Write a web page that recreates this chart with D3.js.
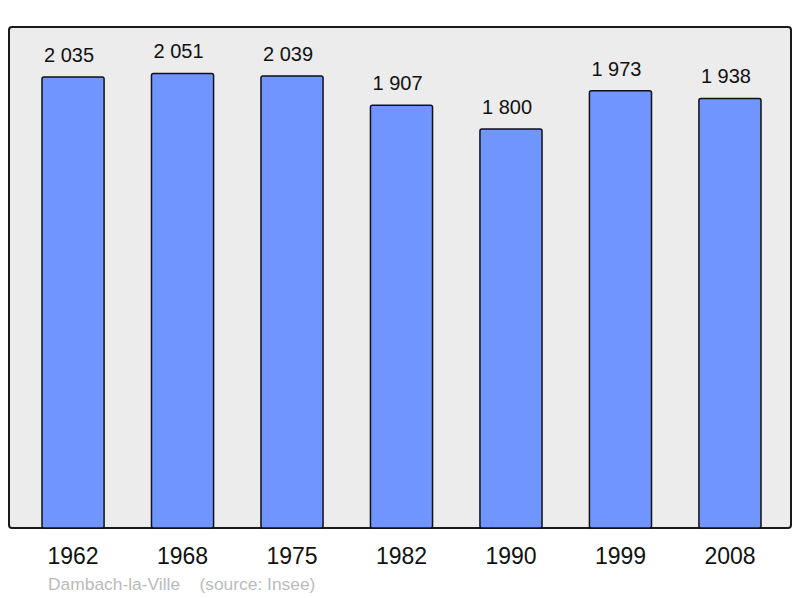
<!DOCTYPE html>
<html>
<head>
<meta charset="utf-8">
<script src="https://cdn.jsdelivr.net/npm/d3@7"></script>
<style>
body { margin: 0; background: #fff; }
text { font-family: "Liberation Sans", Arial, sans-serif; }
</style>
</head>
<body>
<div id="chart"></div>
<script>
var years = ["1962", "1968", "1975", "1982", "1990", "1999", "2008"];
var population = [2035, 2051, 2039, 1907, 1800, 1973, 1938];
var valueLabels = ["2 035", "2 051", "2 039", "1 907", "1 800", "1 973", "1 938"];
var footer = "Dambach-la-Ville    (source: Insee)";

var fw = 800, fh = 598;
var panel = { left: 9, top: 27, right: 791, bottom: 528 };

var svg = d3.select("#chart")
	.append("svg")
	.attr("width", fw)
	.attr("height", fh);

svg.append("rect")
	.attr("x", panel.left)
	.attr("y", panel.top)
	.attr("width", panel.right - panel.left)
	.attr("height", panel.bottom - panel.top)
	.attr("rx", 3)
	.attr("fill", "#ececec")
	.attr("stroke", "#1a1a1a")
	.attr("stroke-width", 2);

var x = d3.scaleBand()
	.domain(years)
	.range([18.3, 784.7])
	.paddingInner(0.433)
	.paddingOuter(0.2165);

var y = d3.scaleLinear()
	.domain([0, 2035])
	.range([panel.bottom, 77]);

svg.selectAll("rect.bar")
	.data(population)
	.enter()
	.append("rect")
	.attr("class", "bar")
	.attr("x", function(d, i) { return x(years[i]); })
	.attr("y", function(d) { return y(d); })
	.attr("width", x.bandwidth())
	.attr("height", function(d) { return panel.bottom - y(d); })
	.attr("rx", 2)
	.attr("fill", "#7095ff")
	.attr("stroke", "#111")
	.attr("stroke-width", 1.5);

// value labels sit a little left of the bar centre in the original
svg.selectAll("text.val")
	.data(population)
	.enter()
	.append("text")
	.attr("class", "val")
	.attr("x", function(d, i) { return x(years[i]) + x.bandwidth() / 2 - 4; })
	.attr("y", function(d) { return y(d) - 15; })
	.attr("text-anchor", "middle")
	.attr("font-size", 20)
	.attr("fill", "#111")
	.text(function(d, i) { return valueLabels[i]; });

var xA = d3.axisBottom(x).tickSize(0).tickPadding(0);
var ax = svg.append("g")
	.attr("transform", "translate(0," + panel.bottom + ")")
	.call(xA);
ax.select(".domain").remove();
ax.selectAll("text")
	.attr("y", 36)
	.attr("dy", 0)
	.attr("font-size", 23)
	.attr("font-family", "Liberation Sans, Arial, sans-serif")
	.attr("fill", "#111");

svg.append("text")
	.attr("x", 48)
	.attr("y", 590)
	.attr("font-size", 17.4)
	.attr("fill", "#bbbbbb")
	.attr("xml:space", "preserve")
	.style("white-space", "pre")
	.text(footer);
</script>
</body>
</html>
